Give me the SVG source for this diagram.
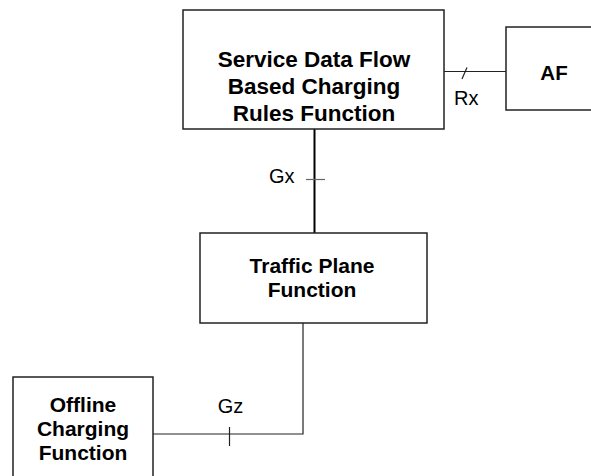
<svg xmlns="http://www.w3.org/2000/svg" width="591" height="476" viewBox="0 0 591 476">
<style>
.box{fill:#fff;stroke:#222;stroke-width:1.5}
.t{font-family:"Liberation Sans",Arial,sans-serif;font-weight:bold;fill:#000;text-anchor:middle}
.lbl{font-family:"Liberation Sans",Arial,sans-serif;font-size:20px;fill:#000}
.c{stroke:#222;stroke-width:1.2;fill:none}
</style>
<rect width="591" height="476" fill="#fff"/>
<g id="connectors">
<line class="c" x1="444" y1="71.5" x2="506" y2="71.5"/>
<line class="c" x1="462" y1="79" x2="467" y2="67.5"/>
<line x1="314.5" y1="129" x2="314.5" y2="233" stroke="#000" stroke-width="2"/>
<line x1="306" y1="179.5" x2="325" y2="179.5" stroke="#666" stroke-width="1.2"/>
<polyline class="c" points="303,323 303,434 153,434"/>
<line class="c" x1="229.5" y1="427" x2="229.5" y2="446"/>
<text class="lbl" x="454" y="105">Rx</text>
<text class="lbl" x="269" y="183">Gx</text>
<text class="lbl" x="230.5" y="413" text-anchor="middle">Gz</text>
</g>
<g id="pcrf">
<rect class="box" x="183" y="10" width="261" height="119"/>
<text class="t" font-size="22.5" x="314" y="67">Service Data Flow</text>
<text class="t" font-size="22.5" x="314" y="94">Based Charging</text>
<text class="t" font-size="22.5" x="314" y="121">Rules Function</text>
</g>
<g id="af">
<rect class="box" x="506" y="27" width="100" height="83"/>
<text class="t" font-size="20.5" x="554" y="80">AF</text>
</g>
<g id="tpf">
<rect class="box" x="200" y="233" width="227" height="90"/>
<text class="t" font-size="21" x="312" y="273">Traffic Plane</text>
<text class="t" font-size="21" x="312" y="297">Function</text>
</g>
<g id="ocf">
<rect class="box" x="13" y="377" width="140" height="110"/>
<text class="t" font-size="21" x="83" y="412">Offline</text>
<text class="t" font-size="21" x="83" y="436">Charging</text>
<text class="t" font-size="21" x="83" y="460">Function</text>
</g>
</svg>
